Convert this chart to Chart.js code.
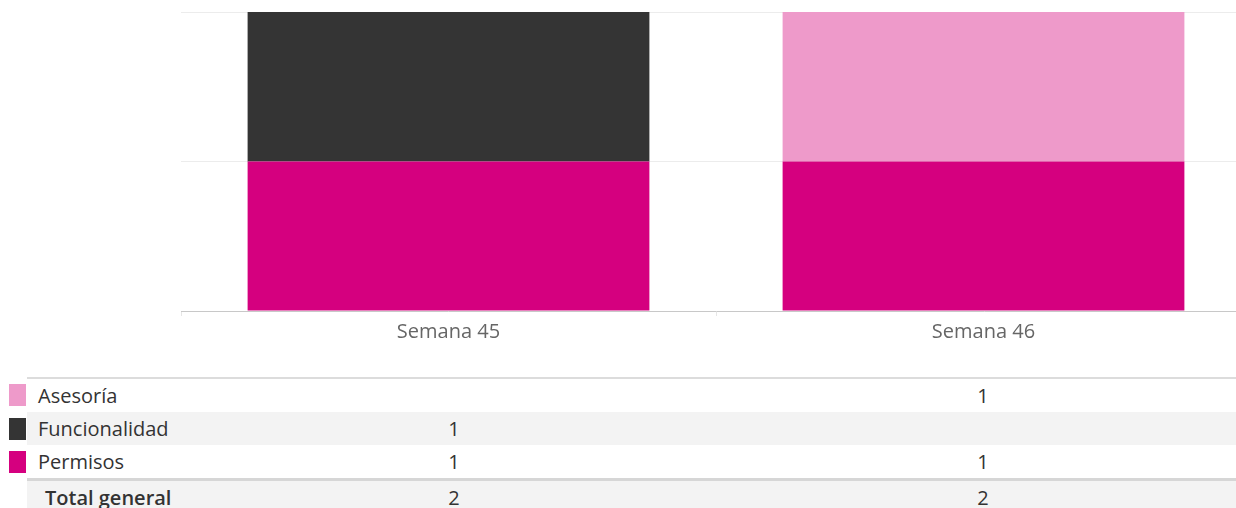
<!DOCTYPE html>
<html>
<head>
<meta charset="utf-8">
<script src="https://cdn.jsdelivr.net/npm/chart.js@4"></script>
<style>
    body { margin: 0; background: #fff; font-family: "Open Sans", sans-serif; }
    #wrap { position: relative; width: 1236px; height: 508px; overflow: hidden; }
    #chartBox { position: absolute; left: 0; top: 0; width: 1251px; height: 350px; }
    #tbl { position: absolute; left: 0; top: 377px; width: 1236px; border-collapse: collapse; table-layout: fixed; font-size: 20px; color: #333; }
    #tbl td { height: 33px; padding: 0; vertical-align: middle; white-space: nowrap; line-height: 22px; }
    #tbl td.sw { background: #fff; }
    #tbl td.sw span { display: block; margin-left: 9px; width: 17px; height: 22px; }
    #tbl td.lab { padding-left: 11px; }
    #tbl td.val { text-align: center; }
    #tbl tr.first td:not(.sw) { border-top: 2px solid #dcdcdc; }
    #tbl tr.alt td:not(.sw) { background: #f3f3f3; }
    #tbl tr.total td:not(.sw) { border-top: 3px solid #d6d6d6; background: #f3f3f3; }
    #tbl tr.total td.lab { padding-left: 18px; font-weight: 600; }
</style>
</head>
<body>
<div id="wrap">
    <div id="chartBox"><canvas id="weekChart"></canvas></div>
    <table id="tbl">
        <colgroup><col style="width:27px"><col style="width:402px"><col style="width:50px"><col style="width:479px"><col style="width:50px"><col></colgroup>
    </table>
</div>
<script>
const semanas = ['Semana 45', 'Semana 46'];
const categorias = ['Asesoría', 'Funcionalidad', 'Permisos'];
const asesoria = [null, 1];
const funcionalidad = [1, null];
const permisos = [1, 1];

const colores = {
    'Asesoría': '#ee9aca',
    'Funcionalidad': '#343434',
    'Permisos': '#d5007f'
};
const valores = {
    'Asesoría': asesoria,
    'Funcionalidad': funcionalidad,
    'Permisos': permisos
};

// stacked from the bottom: Permisos first
const stackOrder = ['Permisos', 'Funcionalidad', 'Asesoría'];

new Chart(document.getElementById('weekChart'), {
    type: 'bar',
    data: {
        labels: semanas,
        datasets: stackOrder.map(c => ({
            label: c,
            data: valores[c],
            backgroundColor: colores[c],
            barPercentage: 0.751,
            categoryPercentage: 1
        }))
    },
    options: {
        responsive: true,
        maintainAspectRatio: false,
        animation: false,
        layout: { padding: { left: 181, top: 12, right: 0, bottom: 2 } },
        plugins: {
            legend: { display: false },
            tooltip: { enabled: false }
        },
        scales: {
            x: {
                stacked: true,
                grid: { drawOnChartArea: false, drawTicks: true, tickLength: 5, color: '#e6e6e6' },
                border: { display: true, color: '#c8c8c8', dash: [2, 2] },
                ticks: { color: '#666', font: { family: 'Open Sans', size: 20 }, padding: 4 }
            },
            y: {
                stacked: true,
                min: 0,
                max: 2,
                ticks: { display: false, stepSize: 1 },
                border: { display: false },
                grid: {
                    drawTicks: false,
                    color: ctx => ctx.tick && ctx.tick.value === 0 ? 'rgba(0,0,0,0)' : '#ececec'
                }
            }
        }
    }
});

// data table under the chart
const tbl = document.getElementById('tbl');
let html = '';
categorias.forEach((c, i) => {
    const cls = (i === 0 ? 'first ' : '') + (i % 2 === 1 ? 'alt' : '');
    html += `<tr class="${cls}"><td class="sw"><span style="background:${colores[c]}"></span></td>` +
        `<td class="lab">${c}</td>` +
        `<td class="val">${valores[c][0] ?? ''}</td><td></td>` +
        `<td class="val">${valores[c][1] ?? ''}</td><td></td></tr>`;
});
const totales = semanas.map((s, j) => categorias.reduce((a, c) => a + (valores[c][j] || 0), 0));
html += `<tr class="total"><td class="sw"></td><td class="lab">Total general</td>` +
    `<td class="val">${totales[0]}</td><td></td><td class="val">${totales[1]}</td><td></td></tr>`;
tbl.insertAdjacentHTML('beforeend', html);
</script>
</body>
</html>
